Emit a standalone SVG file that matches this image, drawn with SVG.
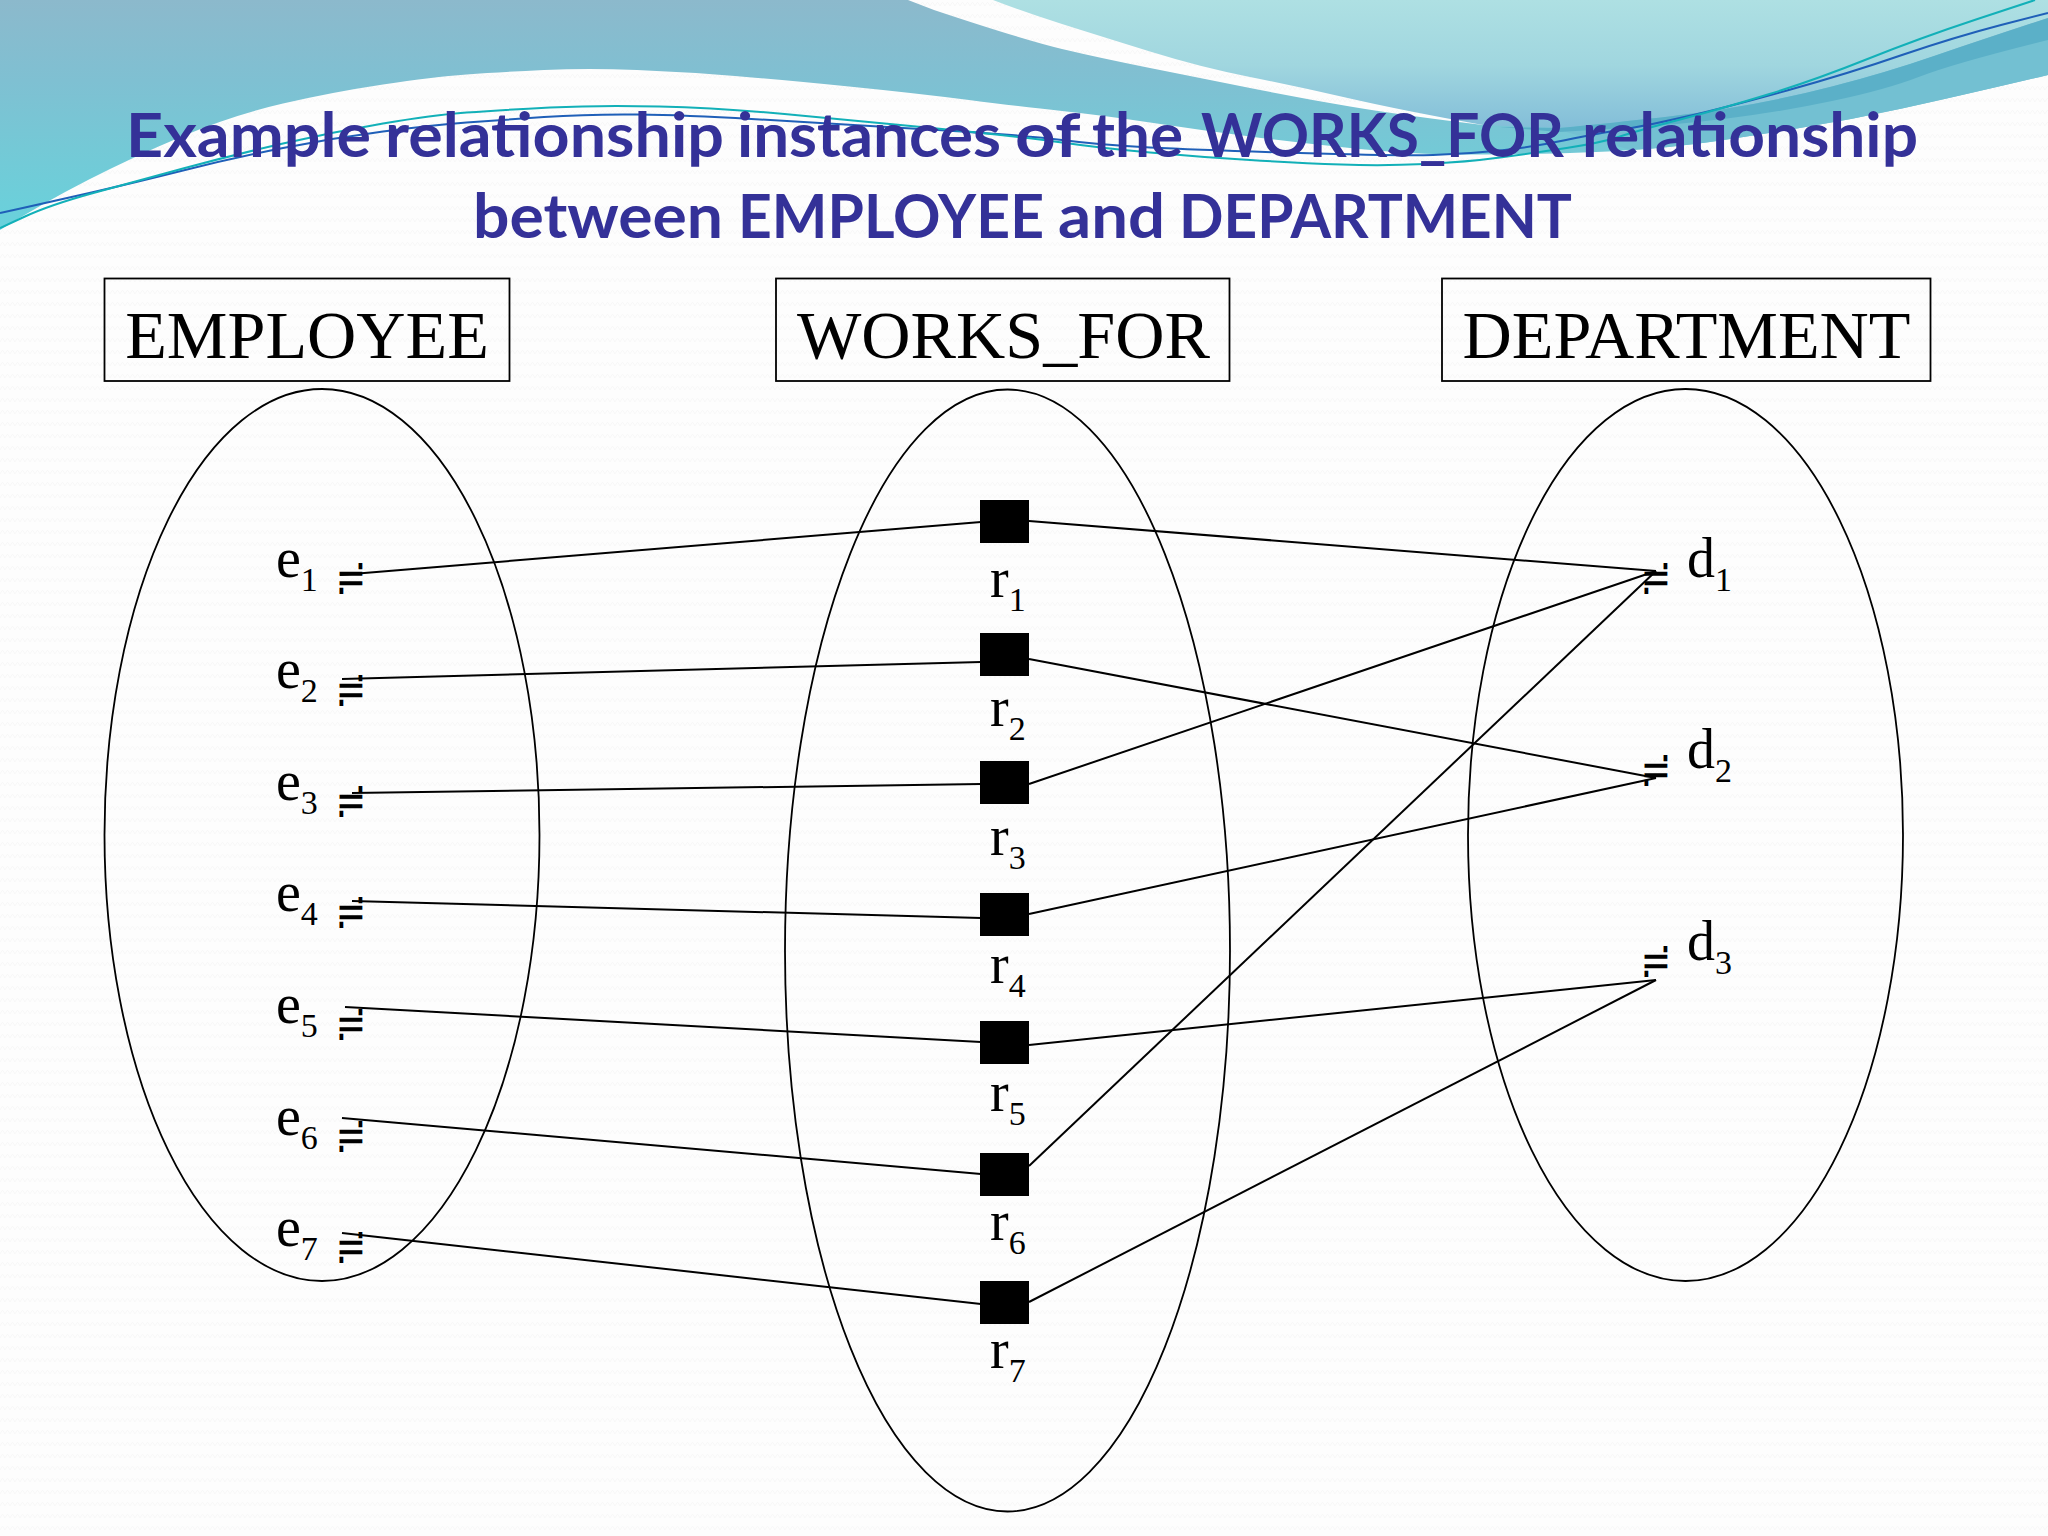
<svg xmlns="http://www.w3.org/2000/svg" width="2048" height="1536" viewBox="0 0 2048 1536">
<style>
.set{fill:none;stroke:#000;stroke-width:1.8}
.box{fill:none;stroke:#000;stroke-width:1.8}
.hd{font-family:"Liberation Serif",serif;font-size:68.2px;fill:#000;text-anchor:middle}
.lb{font-family:"Liberation Serif",serif;font-size:56px;fill:#000}
.sb{font-size:34px}
.sym{font-family:"DejaVu Sans",sans-serif;font-size:26px;fill:#000;text-anchor:middle}
.sq{fill:#000}
.title{font-family:Lato,sans-serif;font-weight:700;font-size:61px;fill:#343198}
#connectors line{stroke:#000;stroke-width:2}
</style>
<defs>
<linearGradient id="gMain" gradientUnits="userSpaceOnUse" x1="0" y1="0" x2="0" y2="230"><stop offset="0" stop-color="#8cb9cc"/><stop offset=".35" stop-color="#7fc0d2"/><stop offset=".65" stop-color="#74c9d6"/><stop offset="1" stop-color="#68d2dc"/></linearGradient>
<linearGradient id="gLight" gradientUnits="userSpaceOnUse" x1="0" y1="0" x2="0" y2="130"><stop offset="0" stop-color="#aee0e3"/><stop offset=".5" stop-color="#a0d6df"/><stop offset="1" stop-color="#82bdd8"/></linearGradient>
<pattern id="tex" width="10" height="12" patternUnits="userSpaceOnUse"><path d="M0,6 L2.5,2 L5,6 L7.5,2 L10,6" fill="none" stroke="#f7f7f7" stroke-width="1"/></pattern>
</defs>
<rect id="bg" width="2048" height="1536" fill="#fdfdfd"/>
<rect width="2048" height="1536" fill="url(#tex)"/>
<g id="banner">
<path fill="url(#gMain)" d="M0,0 L908,0 L934,10 Q1024,40 1062,49 Q1100,58 1150,68 Q1200,78 1250,88 Q1300,98 1350,106.5 Q1400,115 1483,125 L2048,0 L2048,75 Q1955,97 1902,108.5 Q1850,120 1797,128.5 Q1745,137 1710,142 Q1675,147 1631,150 Q1587,153 1527,154 Q1467,155 1433,154 Q1400,153 1350,148 Q1300,143 1250,136.5 Q1200,130 1150,122.5 Q1100,115 1062,111 Q1024,107 969,100 Q914,93 849,86.5 Q784,80 735,76 Q686,72 637,70 Q588,68 544,70 Q500,72 466.5,74.5 Q433,77 383,84.5 Q333,92 283,103.5 Q233,115 183,136 Q133,157 88,180 Q43,203 0,230 Z"/>
<path fill="#73c0d2" d="M1559,130 L2048,30 L2048,75 Q1955,97 1902,108.5 Q1850,120 1797,128.5 Q1745,137 1710,142 Q1675,147 1631,150 Z"/>
<path fill="url(#gLight)" d="M993,0 Q1024,12 1062,24 Q1100,36 1150,51.5 Q1200,67 1250,77 Q1300,87 1350,98.5 Q1400,110 1483,125 L1559,128 Q1675,117 1727,108.5 Q1780,100 1832,86.5 Q1885,73 1937,55 Q1990,37 2048,18 L2048,0 Z"/>
<path fill="#5bb0c8" d="M1500,127 L1559,128 Q1675,117 1727,108.5 Q1780,100 1832,86.5 Q1885,73 1937,55 Q1990,37 2048,18 L2048,40 Q1955,63 1920,76.5 Q1885,90 1832,101 Q1780,112 1727,118.5 Q1675,125 1617,128.5 L1559,132 Z"/>
<path fill="none" stroke="#1f5fb8" stroke-width="2" d="M0,213 L25,207.5 Q50,202 91.5,192.5 Q133,183 183,170.5 Q233,158 283,148 Q333,138 383,131.5 Q433,125 466.5,122.5 Q500,120 544,117 Q588,114 637,114.5 Q686,115 751.5,119 Q817,123 920,129 Q1024,135 1062,140 Q1100,145 1150,147.5 Q1200,150 1300,153 Q1400,156 1433,155 Q1467,154 1500,150.5 Q1533,147 1566,140 Q1600,133 1620,130 Q1640,127 1682,117.5 Q1724,108 1787,90.5 Q1850,73 1902,55 Q1955,37 2001,25 L2048,13"/>
<path fill="none" stroke="#12b0b8" stroke-width="2" d="M0,228 L25,216.5 Q50,205 91.5,193.5 Q133,182 183,168.5 Q233,155 283,143.5 Q333,132 383,123.5 Q433,115 466.5,112.5 Q500,110 550,107.5 Q600,105 659.5,106.5 Q719,108 784.5,114 Q850,120 937,128.5 Q1024,137 1062,142.5 Q1100,148 1150,152.5 Q1200,157 1250,160 Q1300,163 1341.5,164.5 Q1383,166 1425,164 Q1467,162 1500,157.5 Q1533,153 1566.5,148 Q1600,143 1620,136.5 Q1640,130 1682,119 Q1724,108 1769.5,94 Q1815,80 1867.5,59 Q1920,38 1977.5,19 L2035,0"/>
</g>
<g id="title">
<text class="title" y="157"><tspan x="126" textLength="245" lengthAdjust="spacingAndGlyphs">Example</tspan> <tspan x="385" textLength="339" lengthAdjust="spacingAndGlyphs">relationship</tspan> <tspan x="737" textLength="264" lengthAdjust="spacingAndGlyphs">instances</tspan> <tspan x="1015" textLength="64" lengthAdjust="spacingAndGlyphs">of</tspan> <tspan x="1092" textLength="91" lengthAdjust="spacingAndGlyphs">the</tspan> <tspan x="1201" textLength="363" lengthAdjust="spacingAndGlyphs">WORKS_FOR</tspan> <tspan x="1582" textLength="336" lengthAdjust="spacingAndGlyphs">relationship</tspan></text>
<text class="title" y="238"><tspan x="473" textLength="250" lengthAdjust="spacingAndGlyphs">between</tspan> <tspan x="738" textLength="306" lengthAdjust="spacingAndGlyphs">EMPLOYEE</tspan> <tspan x="1058" textLength="107" lengthAdjust="spacingAndGlyphs">and</tspan> <tspan x="1179" textLength="393" lengthAdjust="spacingAndGlyphs">DEPARTMENT</tspan></text>
</g>
<g id="set-employee"><ellipse class="set" cx="322" cy="835" rx="217.5" ry="446"/><rect class="box" x="104.5" y="278.5" width="405" height="102.5"/><text class="hd" x="307" y="358">EMPLOYEE</text></g>
<g id="set-works-for"><ellipse class="set" cx="1007.5" cy="950.5" rx="222.5" ry="561"/><rect class="box" x="776" y="278.5" width="453.5" height="102.5"/><text class="hd" x="1003.5" y="358">WORKS_FOR</text></g>
<g id="set-department"><ellipse class="set" cx="1685.5" cy="835" rx="217.5" ry="446"/><rect class="box" x="1442" y="278.5" width="488.5" height="102.5"/><text class="hd" x="1686.5" y="358">DEPARTMENT</text></g>
<g id="connectors">
<line x1="340" y1="575" x2="981" y2="522"/><line x1="1029" y1="521" x2="1656" y2="571"/>
<line x1="342" y1="679" x2="981" y2="662"/><line x1="1029" y1="659" x2="1656" y2="778"/>
<line x1="352" y1="793" x2="981" y2="784"/><line x1="1029" y1="784" x2="1656" y2="571"/>
<line x1="352" y1="901" x2="981" y2="918"/><line x1="1029" y1="914" x2="1656" y2="778"/>
<line x1="345" y1="1007" x2="981" y2="1042"/><line x1="1029" y1="1045" x2="1656" y2="980"/>
<line x1="342" y1="1118" x2="981" y2="1174"/><line x1="1029" y1="1166" x2="1656" y2="571"/>
<line x1="342" y1="1233" x2="981" y2="1304"/><line x1="1029" y1="1302" x2="1656" y2="980"/>
</g>
<g id="e1"><text class="lb" x="276" y="577">e<tspan class="sb" dy="14">1</tspan></text><text class="sym" y="8" transform="translate(351,579) scale(1.4,1.9)">≓</text></g>
<g id="e2"><text class="lb" x="276" y="688">e<tspan class="sb" dy="14">2</tspan></text><text class="sym" y="8" transform="translate(351,690.5) scale(1.4,1.9)">≓</text></g>
<g id="e3"><text class="lb" x="276" y="800">e<tspan class="sb" dy="14">3</tspan></text><text class="sym" y="8" transform="translate(351,802) scale(1.4,1.9)">≓</text></g>
<g id="e4"><text class="lb" x="276" y="911">e<tspan class="sb" dy="14">4</tspan></text><text class="sym" y="8" transform="translate(351,913) scale(1.4,1.9)">≓</text></g>
<g id="e5"><text class="lb" x="276" y="1023">e<tspan class="sb" dy="14">5</tspan></text><text class="sym" y="8" transform="translate(351,1025) scale(1.4,1.9)">≓</text></g>
<g id="e6"><text class="lb" x="276" y="1135">e<tspan class="sb" dy="14">6</tspan></text><text class="sym" y="8" transform="translate(351,1137) scale(1.4,1.9)">≓</text></g>
<g id="e7"><text class="lb" x="276" y="1246">e<tspan class="sb" dy="14">7</tspan></text><text class="sym" y="8" transform="translate(351,1248) scale(1.4,1.9)">≓</text></g>
<g id="r1"><rect class="sq" x="980" y="500" width="49" height="43"/><text class="lb" x="990" y="597">r<tspan class="sb" dy="14">1</tspan></text></g>
<g id="r2"><rect class="sq" x="980" y="633" width="49" height="43"/><text class="lb" x="990" y="726">r<tspan class="sb" dy="14">2</tspan></text></g>
<g id="r3"><rect class="sq" x="980" y="761" width="49" height="43"/><text class="lb" x="990" y="855">r<tspan class="sb" dy="14">3</tspan></text></g>
<g id="r4"><rect class="sq" x="980" y="893" width="49" height="43"/><text class="lb" x="990" y="983">r<tspan class="sb" dy="14">4</tspan></text></g>
<g id="r5"><rect class="sq" x="980" y="1021" width="49" height="43"/><text class="lb" x="990" y="1111">r<tspan class="sb" dy="14">5</tspan></text></g>
<g id="r6"><rect class="sq" x="980" y="1153" width="49" height="43"/><text class="lb" x="990" y="1240">r<tspan class="sb" dy="14">6</tspan></text></g>
<g id="r7"><rect class="sq" x="980" y="1281" width="49" height="43"/><text class="lb" x="990" y="1368">r<tspan class="sb" dy="14">7</tspan></text></g>
<g id="d1"><text class="lb" x="1687" y="577">d<tspan class="sb" dy="14">1</tspan></text><text class="sym" y="8" transform="translate(1656,579) scale(1.4,1.9)">≓</text></g>
<g id="d2"><text class="lb" x="1687" y="768">d<tspan class="sb" dy="14">2</tspan></text><text class="sym" y="8" transform="translate(1656,771) scale(1.4,1.9)">≓</text></g>
<g id="d3"><text class="lb" x="1687" y="960">d<tspan class="sb" dy="14">3</tspan></text><text class="sym" y="8" transform="translate(1656,962) scale(1.4,1.9)">≓</text></g>
</svg>
